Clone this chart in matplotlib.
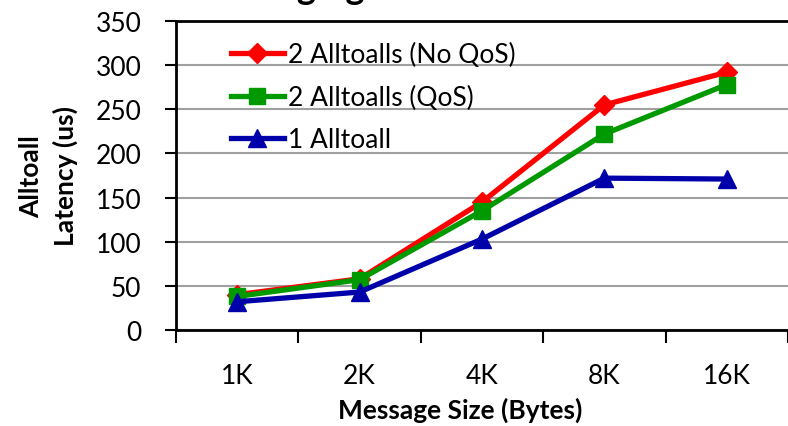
import matplotlib
matplotlib.use('Agg')
import matplotlib.pyplot as plt
import numpy as np

plt.rcParams['font.family'] = ['Lato', 'DejaVu Sans']

# Data
sizes = ['1K', '2K', '4K', '8K', '16K']
no_qos = [40, 58, 145, 255, 292]
qos = [38, 57, 135, 222, 278]
single = [32, 43, 103, 172, 171]

fig = plt.figure(figsize=(7.88, 4.27), dpi=100)
ax = fig.add_axes([176 / 788, 1 - 331 / 427, 612 / 788, 309 / 427])

x = np.arange(len(sizes))
ax.plot(x, no_qos, color='#ff0000', lw=3.8, marker='D', ms=10, label='2 Alltoalls (No QoS)')
ax.plot(x, qos, color='#009900', lw=3.8, marker='s', ms=11, label='2 Alltoalls (QoS)')
ax.plot(x, single, color='#0000aa', lw=3.8, marker='^', ms=13, label='1 Alltoall')

ax.set_xlim(-0.5, len(sizes) - 0.5)
ax.set_ylim(0, 350)
ax.set_yticks(range(0, 351, 50))
ax.set_xticks(x)
ax.set_xticklabels(sizes)
ax.set_xticks(np.arange(-0.5, len(sizes), 1.0), minor=True)
ax.tick_params(axis='x', which='major', length=0, labelsize=19, pad=24)
ax.tick_params(axis='x', which='minor', length=9, width=1.5, direction='out')
ax.tick_params(axis='y', length=8, width=1.5, direction='out', labelsize=19, pad=17)

ax.grid(axis='y', color='#a0a0a0', lw=1.5)
ax.set_axisbelow(True)
for s in ['left', 'bottom', 'top']:
    ax.spines[s].set_linewidth(2)
ax.spines['right'].set_visible(False)

ax.set_xlabel('Message Size (Bytes)', fontsize=19, fontweight='bold', va='center')
ax.xaxis.set_label_coords(0.464, -0.256)
ax.set_ylabel('Alltoall\nLatency (us)', fontsize=19, fontweight='bold', linespacing=1.45)
ax.yaxis.set_label_coords(-0.160, 0.5)

leg = ax.legend(loc='upper left', bbox_to_anchor=(0.055, 1.0), frameon=False,
                fontsize=19, handlelength=2.0, handletextpad=0.15,
                labelspacing=0.66, borderaxespad=0.4)

# title clipped at the top of the image in the reference
fig.text(180 / 788, 1.002, 'Converging Alltoalls', ha='left', va='baseline',
         fontsize=26, fontweight='bold')

fig.savefig('out.png', dpi=100)
